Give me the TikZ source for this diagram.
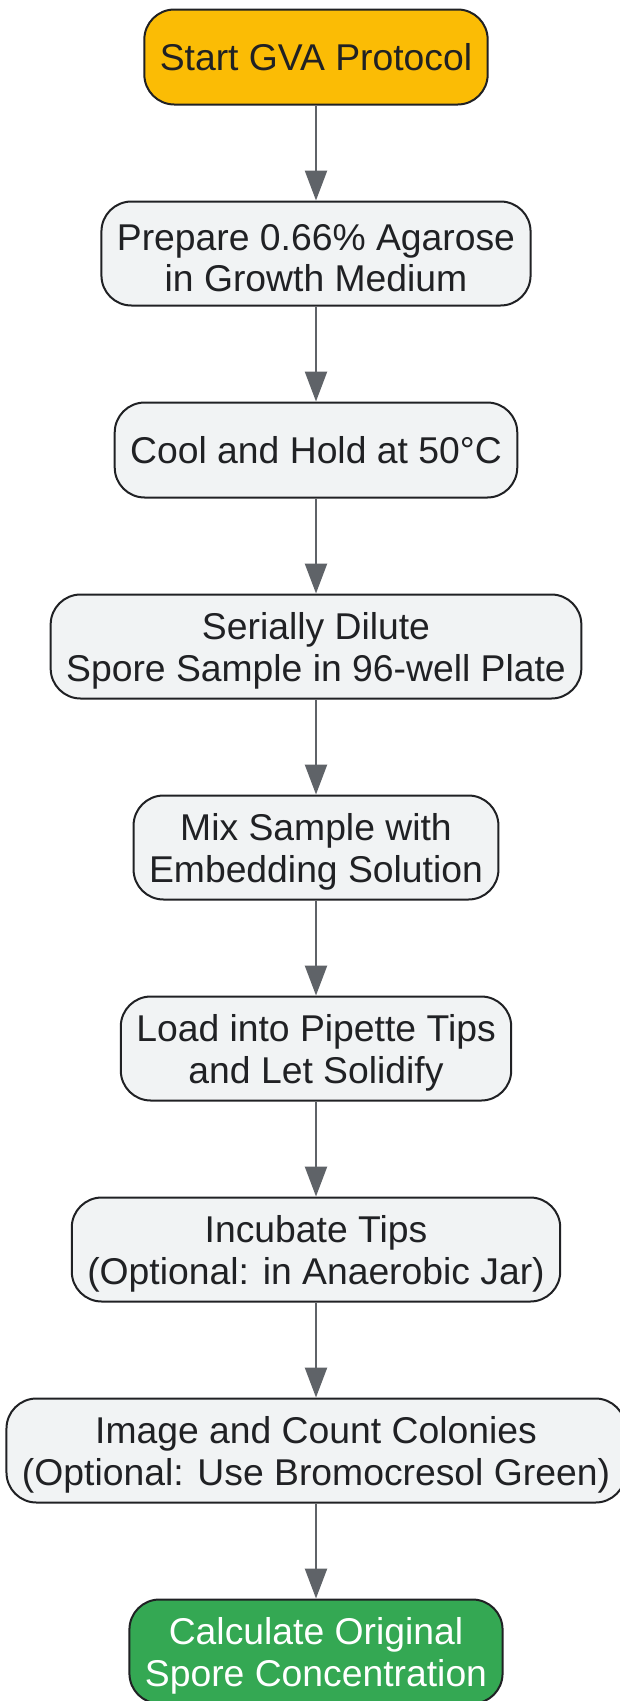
\documentclass[tikz,border=0pt]{standalone}
\usepackage{fontspec}
\setmainfont{Liberation Sans}
\usepackage{tikz}
\usetikzlibrary{arrows.meta, positioning}
\definecolor{startyellow}{HTML}{FBBC05}
\definecolor{stepgray}{HTML}{F1F3F4}
\definecolor{endgreen}{HTML}{34A853}
\definecolor{edgegray}{HTML}{5F6368}
\definecolor{inkdark}{HTML}{202124}

\begin{document}
\begin{tikzpicture}[
    node distance=95pt,
    box/.style={draw=inkdark, line width=2pt, rounded corners=30pt, align=center,
        inner xsep=15.5pt, minimum height=104pt, text=inkdark,
        font=\fontsize{37.3pt}{41.5pt}\selectfont,
        text height=77pt},
    oneline/.style={minimum height=95pt, text height=},
    startbox/.style={box, oneline, fill=startyellow},
    stepbox/.style={box, fill=stepgray},
    endbox/.style={box, fill=endgreen, text=white},
    flow/.style={draw=edgegray, line width=2.5pt, -{Triangle[length=30pt, width=22pt]}}
]
    \useasboundingbox (0,0) rectangle (620pt,-1701pt);

    % Kette der Protokollschritte
    \node[startbox] (start) at (316pt,-57pt) {Start GVA Protocol};
    \node[stepbox, below=of start] (agar) {Prepare 0.66\% Agarose\\in Growth Medium};
    \node[stepbox, oneline, below=of agar] (cool) {Cool and Hold at 50°C};
    \node[stepbox, below=of cool] (dilute) {Serially Dilute\\Spore Sample in 96-well Plate};
    \node[stepbox, below=of dilute] (mix) {Mix Sample with\\Embedding Solution};
    \node[stepbox, below=of mix] (load) {Load into Pipette Tips\\and Let Solidify};
    \node[stepbox, below=of load] (incub) {Incubate Tips\\(Optional: in Anaerobic Jar)};
    \node[stepbox, below=of incub] (count) {Image and Count Colonies\\(Optional: Use Bromocresol Green)};
    \node[endbox, below=of count] (calc) {Calculate Original\\Spore Concentration};

    % Pfeile
    \draw[flow] (start) -- (agar);
    \draw[flow] (agar) -- (cool);
    \draw[flow] (cool) -- (dilute);
    \draw[flow] (dilute) -- (mix);
    \draw[flow] (mix) -- (load);
    \draw[flow] (load) -- (incub);
    \draw[flow] (incub) -- (count);
    \draw[flow] (count) -- (calc);
\end{tikzpicture}
\end{document}
